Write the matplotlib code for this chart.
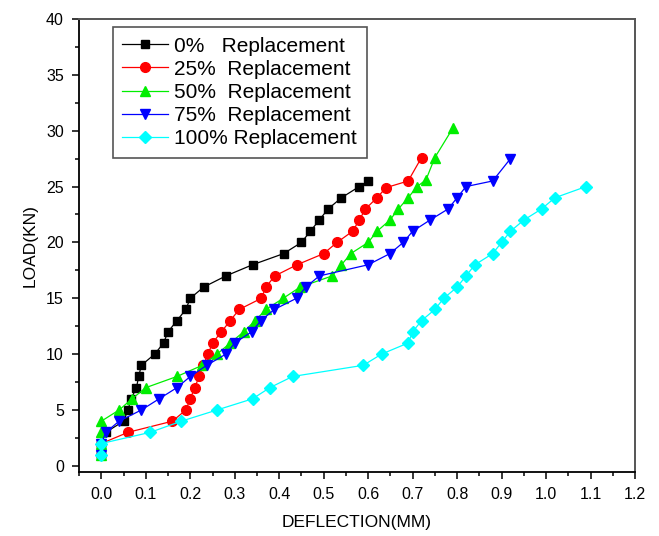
import numpy as np
import matplotlib
matplotlib.use("Agg")
import matplotlib.pyplot as plt
from matplotlib.ticker import MultipleLocator

plt.rcParams["font.family"] = ["Liberation Sans", "DejaVu Sans"]

# deflection (mm) / load (kN)
x0 = [0, 0, 0.01, 0.05, 0.06, 0.067, 0.079, 0.084, 0.09, 0.12, 0.14, 0.15, 0.17, 0.19, 0.20,
      0.23, 0.28, 0.34, 0.41, 0.45, 0.47, 0.49, 0.51, 0.54, 0.58, 0.60]
y0 = [1, 2, 3, 4, 5, 6, 7, 8, 9, 10, 11, 12, 13, 14, 15, 16, 17, 18, 19, 20, 21, 22, 23, 24, 25, 25.5]

x25 = [0, 0, 0.06, 0.16, 0.19, 0.20, 0.21, 0.22, 0.229, 0.24, 0.25, 0.27, 0.29, 0.31, 0.36,
       0.37, 0.39, 0.44, 0.50, 0.53, 0.565, 0.58, 0.594, 0.62, 0.64, 0.69, 0.72]
y25 = [1, 2, 3, 4, 5, 6, 7, 8, 9, 10, 11, 12, 13, 14, 15, 16, 17, 18, 19, 20, 21, 22, 23, 24,
       24.9, 25.5, 27.6]

x50 = [0, 0, 0, 0, 0.04, 0.069, 0.10, 0.17, 0.227, 0.26, 0.29, 0.32, 0.346, 0.37, 0.409, 0.447,
       0.519, 0.54, 0.561, 0.60, 0.62, 0.649, 0.668, 0.69, 0.71, 0.73, 0.75, 0.79]
y50 = [1, 2, 3, 4, 5, 6, 7, 8, 9, 10, 11, 12, 13, 14, 15, 16, 17, 18, 19, 20, 21, 22, 23, 24,
       25, 25.6, 27.6, 30.2]

x75 = [0, 0, 0.01, 0.04, 0.09, 0.13, 0.17, 0.20, 0.237, 0.28, 0.30, 0.338, 0.359, 0.389, 0.439,
       0.46, 0.49, 0.60, 0.649, 0.679, 0.70, 0.739, 0.78, 0.80, 0.82, 0.88, 0.92]
y75 = [1, 2, 3, 4, 5, 6, 7, 8, 9, 10, 11, 12, 13, 14, 15, 16, 17, 18, 19, 20, 21, 22, 23, 24,
       25, 25.5, 27.5]

x100 = [0, 0, 0.11, 0.18, 0.26, 0.34, 0.379, 0.43, 0.589, 0.63, 0.69, 0.70, 0.72, 0.75, 0.77,
        0.80, 0.82, 0.84, 0.88, 0.90, 0.92, 0.95, 0.99, 1.02, 1.09]
y100 = [1, 2, 3, 4, 5, 6, 7, 8, 9, 10, 11, 12, 13, 14, 15, 16, 17, 18, 19, 20, 21, 22, 23, 24, 25]

series = [
    (x0, y0, "black", "s", 5.8, "0%   Replacement"),
    (x25, y25, "#ff0000", "o", 7, "25%  Replacement"),
    (x50, y50, "#00ee00", "^", 7.5, "50%  Replacement"),
    (x75, y75, "#0000ff", "v", 7.5, "75%  Replacement"),
    (x100, y100, "#00ffff", "D", 6.2, "100% Replacement"),
]

fig = plt.figure(figsize=(6.59, 5.36), dpi=100)
ax = fig.add_axes([0.12, 0.1194, 0.8436, 0.8452])

for xs, ys, c, m, ms, lab in series:
    ax.plot(xs, ys, color=c, lw=0.9, marker=m, ms=ms, mfc=c, mec=c, label=lab)

ax.set_xlim(-0.05, 1.2)
ax.set_ylim(-0.55, 40)
ax.xaxis.set_major_locator(MultipleLocator(0.1))
ax.xaxis.set_minor_locator(MultipleLocator(0.05))
ax.yaxis.set_major_locator(MultipleLocator(5))
ax.yaxis.set_minor_locator(MultipleLocator(2.5))
ax.set_xticks(np.arange(0, 1.21, 0.1))
ax.set_xticklabels([f"{v:.1f}" for v in np.arange(0, 1.21, 0.1)])
ax.tick_params(which="major", direction="out", length=5, width=1.1, labelsize=11.5, pad=6)
ax.tick_params(which="minor", direction="out", length=3, width=1.1)
ax.tick_params(top=False, right=False, which="both")

for s in ["left", "bottom"]:
    ax.spines[s].set_linewidth(1.3)
    ax.spines[s].set_color("black")
for s in ["top", "right"]:
    ax.spines[s].set_linewidth(1.4)
    ax.spines[s].set_color("#555555")

ax.set_xlabel("DEFLECTION(MM)", fontsize=12.5, labelpad=9)
ax.set_ylabel("LOAD(KN)", fontsize=12.5, labelpad=6)

leg = ax.legend(loc="upper left", bbox_to_anchor=(0.061, 0.982), borderaxespad=0,
                fontsize=15, handlelength=2.2, handletextpad=0.3, labelspacing=0.2,
                borderpad=0.45, fancybox=False, framealpha=1, edgecolor="#555555")
leg.get_frame().set_linewidth(1.2)

fig.savefig("out.png", dpi=100)
